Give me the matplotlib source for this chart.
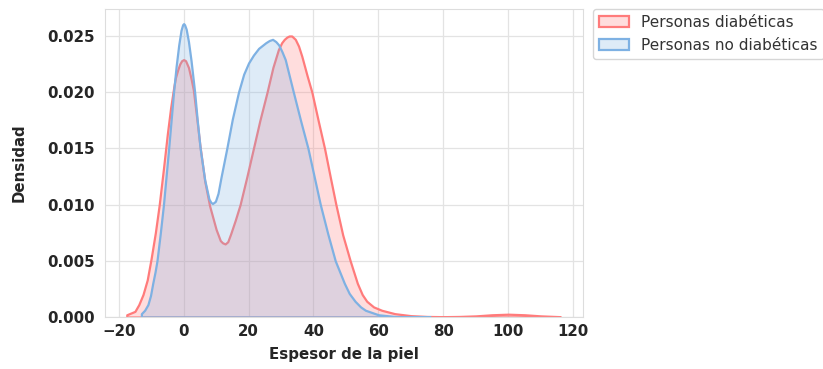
import numpy as np
import matplotlib.pyplot as plt
import seaborn as sns
from matplotlib.colors import to_rgba

# densidad (espesor de la piel)
x_diab = [-17.5, -15, -13.8, -12.5, -11.2, -10, -8.7, -7.5, -6.2, -5, -4, -3, -2.5, -1.8,
          -1.2, -0.6, 0, 0.6, 1.5, 2.3, 3, 4, 5, 6.5, 8, 10, 11.3, 12, 12.8, 13.6, 14.5,
          15.9, 17.4, 19.5, 21.5, 23.5, 25.7, 27.5, 29.2, 30.2, 31, 31.8, 32.5, 33.3, 34.4,
          35.4, 36.4, 38, 39.5, 41.5, 43.4, 45.2, 46.9, 49, 51.3, 53.5, 55, 56.4, 58.5, 61,
          65, 70, 75, 80, 85, 90, 95, 100, 105, 110, 116]
d_diab = [0.0002, 0.0005, 0.0011, 0.0020, 0.0033, 0.0052, 0.0075, 0.0100, 0.0132, 0.0163,
          0.0186, 0.0205, 0.0213, 0.0220, 0.0225, 0.0228, 0.0229, 0.0228, 0.0222, 0.0212,
          0.0202, 0.0178, 0.0153, 0.0121, 0.0099, 0.0078, 0.0068, 0.0066, 0.0065, 0.0067,
          0.0074, 0.0086, 0.0100, 0.0125, 0.0150, 0.0175, 0.0200, 0.0222, 0.0238, 0.0244,
          0.0247, 0.0249, 0.0250, 0.0250, 0.0247, 0.0241, 0.0232, 0.0215, 0.0200, 0.0174,
          0.0150, 0.0124, 0.0100, 0.0073, 0.0050, 0.0030, 0.0020, 0.0014, 0.0009, 0.0006,
          0.0003, 0.00012, 0.00005, 0.00003, 0.00005, 0.0001, 0.0002, 0.00025, 0.0002,
          0.0001, 0.00003]

x_no = [-13, -12, -11, -10.2, -9.5, -8.8, -8.2, -7.2, -6.2, -5.4, -4.6, -3.1, -2.3, -1.5,
        -0.8, -0.3, 0, 0.3, 0.8, 1.5, 2.3, 3.4, 4.2, 5.1, 6.5, 7.8, 8.4, 8.9, 9.4, 9.8, 10.6,
        11.5, 13.3, 15, 16.9, 18.5, 20, 21.5, 23.1, 25.3, 26.4, 27.4, 28.4, 29.3, 30.3, 31.3,
        33.8, 36, 38.3, 40.2, 42.1, 44.4, 46.7, 49.5, 51, 52.8, 54.5, 56, 58, 60, 65, 70, 76]
d_no = [0.0003, 0.0006, 0.0011, 0.0019, 0.0030, 0.0040, 0.0050, 0.0074, 0.0100, 0.0125,
        0.0150, 0.0200, 0.0223, 0.0242, 0.0255, 0.0260, 0.0261, 0.0260, 0.0256, 0.0245,
        0.0228, 0.0200, 0.0175, 0.0150, 0.0122, 0.0105, 0.0102, 0.0101, 0.0102, 0.0103,
        0.0110, 0.0124, 0.0150, 0.0176, 0.0200, 0.0216, 0.0226, 0.0233, 0.0239, 0.0244,
        0.0246, 0.0247, 0.0245, 0.0242, 0.0236, 0.0229, 0.0200, 0.0175, 0.0150, 0.0125,
        0.0100, 0.0074, 0.0050, 0.0030, 0.0021, 0.0014, 0.0009, 0.0006, 0.0004, 0.0002,
        0.00005, 0.00001, 0.0]

series = [
    ("Personas diabéticas", x_diab, d_diab, "#ff7b7b"),
    ("Personas no diabéticas", x_no, d_no, "#7eb1e3"),
]

sns.set_style("whitegrid")
plt.rcParams['font.family'] = ['DejaVu Sans']

fig = plt.figure(figsize=(8.23, 3.69), dpi=100)
ax = fig.add_axes([0.1276, 0.1409, 0.5808, 0.8347])

for label, xs, ds, c in series:
    ax.fill_between(xs, ds, facecolor=to_rgba(c, 0.25), edgecolor=c,
                    linewidth=1.6, label=label)

ax.set_xlim(-24.2, 123.0)
ax.set_ylim(0, 0.0274)
ax.set_xticks(np.arange(-20, 121, 20))
ax.set_yticks(np.arange(0, 0.0251, 0.005))
ax.yaxis.set_major_formatter(plt.FormatStrFormatter('%.3f'))

for lab in ax.get_xticklabels() + ax.get_yticklabels():
    lab.set_fontweight('bold')
    lab.set_fontsize(10.8)
    lab.set_color('#262626')
ax.tick_params(axis='y', pad=4)
ax.tick_params(axis='x', pad=1.5)

ax.set_xlabel("Espesor de la piel", fontsize=10.8, fontweight='bold', color='#262626', labelpad=6)
ax.set_ylabel("Densidad", fontsize=10.8, fontweight='bold', color='#262626', labelpad=15)

for s in ax.spines.values():
    s.set_color('#dddddd')
ax.grid(True, color='#e3e3e3', linewidth=0.9)

leg = ax.legend(loc='upper left', bbox_to_anchor=(1.02, 1.0), fontsize=11,
                frameon=True, borderaxespad=0)
for t in leg.get_texts():
    t.set_color('#333333')

fig.savefig("out.png", dpi=100)
